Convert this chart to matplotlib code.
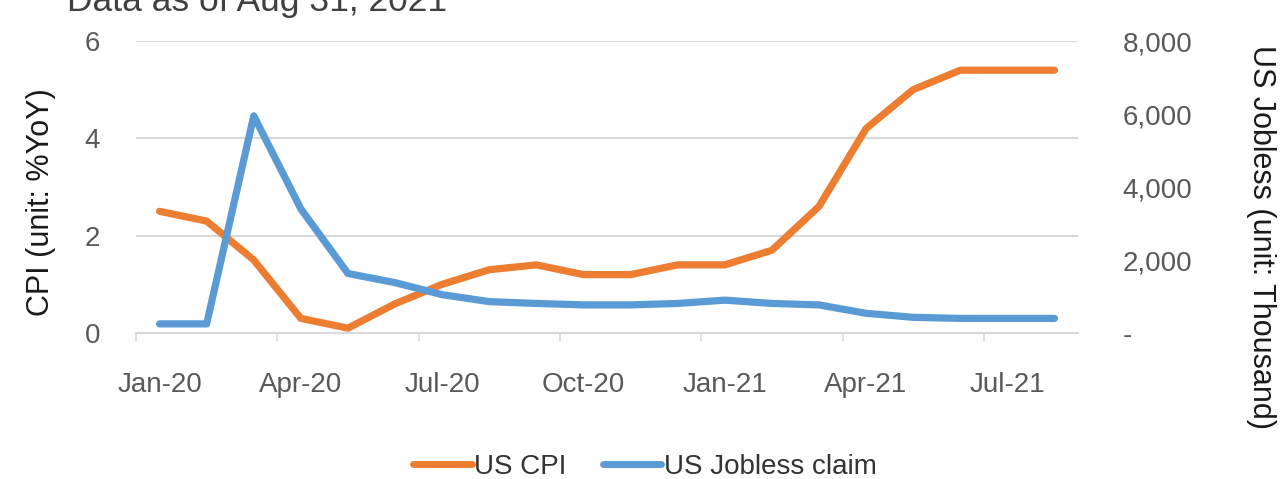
import numpy as np
import matplotlib
matplotlib.use("Agg")
import matplotlib.pyplot as plt
from matplotlib.lines import Line2D
from matplotlib.ticker import FuncFormatter

plt.rcParams["font.family"] = ["Liberation Sans", "DejaVu Sans"]

# monthly data, Jan-20 .. Aug-21
months = ["Jan-20", "Feb-20", "Mar-20", "Apr-20", "May-20", "Jun-20", "Jul-20",
          "Aug-20", "Sep-20", "Oct-20", "Nov-20", "Dec-20", "Jan-21", "Feb-21",
          "Mar-21", "Apr-21", "May-21", "Jun-21", "Jul-21", "Aug-21"]
us_cpi = [2.5, 2.3, 1.5, 0.3, 0.1, 0.6, 1.0, 1.3, 1.4, 1.2,
          1.2, 1.4, 1.4, 1.7, 2.6, 4.2, 5.0, 5.4, 5.4, 5.4]
jobless_claim = [250, 250, 5950, 3400, 1630, 1380, 1050, 860, 810, 770,
                 770, 810, 900, 810, 770, 540, 430, 400, 400, 400]

cpi_ticks = [0, 2, 4, 6]
jobless_ticks = [0, 2000, 4000, 6000, 8000]

ORANGE = "#ED7D31"
BLUE = "#5B9BD5"
GRID = "#D9D9D9"
TXT = "#595959"

fig = plt.figure(figsize=(12.88, 4.79), dpi=100)
ax = fig.add_axes([136 / 1288, 1 - 333 / 479, (1078 - 136) / 1288, (333 - 41) / 479])
ax2 = ax.twinx()

x = np.arange(len(months))
ax.plot(x, us_cpi, color=ORANGE, lw=5.2, solid_joinstyle="round", solid_capstyle="round", zorder=3)
ax2.plot(x, jobless_claim, color=BLUE, lw=5.2, solid_joinstyle="round", solid_capstyle="round", zorder=3)

ax.set_xlim(-0.5, len(months) - 0.5)
ax.set_ylim(0, 6)
ax2.set_ylim(0, 8000)

ax.set_yticks(cpi_ticks)
ax.set_yticklabels([str(t) for t in cpi_ticks])
ax2.set_yticks(jobless_ticks)
ax2.yaxis.set_major_formatter(FuncFormatter(lambda v, p: "-" if v == 0 else f"{int(v):,}"))

ax.grid(axis="y", color=GRID, lw=1.5)
ax.set_axisbelow(True)

# category axis: labels every 3 months, tick marks between categories
ax.set_xticks(x[::3])
ax.set_xticklabels(months[::3])
ax.set_xticks(np.arange(-0.5, len(months) - 1, 3), minor=True)
ax.tick_params(axis="x", which="major", length=0, pad=28, labelsize=20, labelcolor=TXT)
ax.tick_params(axis="x", which="minor", length=6, width=1.2, color=GRID, direction="out")
ax.tick_params(axis="y", length=0, pad=26, labelsize=20, labelcolor=TXT)
ax2.tick_params(axis="y", length=0, pad=32, labelsize=20, labelcolor=TXT)

for a in (ax, ax2):
    for s in a.spines.values():
        s.set_visible(False)
ax.spines["bottom"].set_visible(True)
ax.spines["bottom"].set_color(GRID)
ax.spines["bottom"].set_linewidth(1.5)

fig.text(41 / 1288, 1 - 202 / 479, "CPI (unit: %YoY)", rotation=90, fontsize=22,
         ha="center", va="center", color="#1a1a1a")
fig.text(1261 / 1288, 1 - 237 / 479, "US Jobless (unit: Thousand)", rotation=270, fontsize=22,
         ha="center", va="center", color="#1a1a1a")
fig.text(67 / 1288, 1 - 11 / 479, "Data as of Aug 31, 2021", fontsize=25.5,
         ha="left", va="baseline", color="#404040")

handles = [Line2D([], [], color=ORANGE, lw=5, solid_capstyle="round"),
           Line2D([], [], color=BLUE, lw=5, solid_capstyle="round")]
fig.legend(handles, ["US CPI", "US Jobless claim"], loc="center",
           bbox_to_anchor=(645 / 1288, 1 - 467 / 479), ncol=2, frameon=False,
           fontsize=20, handlelength=2.1, handletextpad=0.1, columnspacing=1.3,
           labelcolor="#333333", borderpad=0)

fig.savefig("out.png", dpi=100)
